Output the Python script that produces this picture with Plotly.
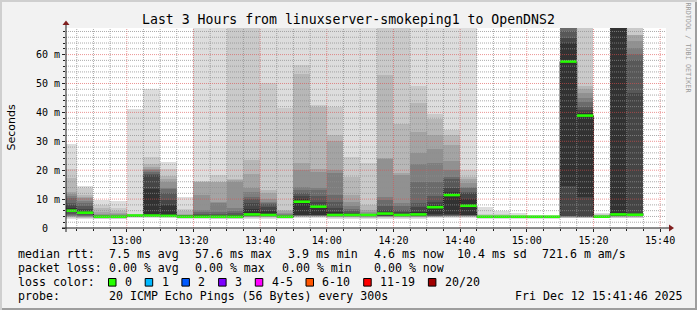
import plotly.graph_objects as go
import pandas as pd

# ---------------- data ----------------
step_start = "2025-12-12 12:40:00"      # first 5-minute step shown
view_start = "2025-12-12 12:41:46"
view_end = "2025-12-12 15:41:46"
y_max_ms = 69.2

# median RTT (ms) per 5-minute step
median_ms = [6.0, 5.3, 3.9, 3.9, 4.3, 4.3, 4.2, 3.9, 3.9, 3.9,
             3.9, 4.7, 4.5, 3.9, 9.1, 7.4, 4.5, 4.5, 4.5, 5.0,
             4.5, 4.7, 7.2, 11.4, 7.7, 3.9, 3.9, 3.9, 3.9, 3.9,
             57.6, 38.9, 3.9, 4.7, 4.6]

# 20 sorted ping RTTs (ms) per 5-minute step (values above the top are off-scale)
pings_ms = [
    [3.0, 3.5, 3.8, 3.9, 4.0, 4.2, 4.5, 5.0, 5.5, 6.0, 7.0, 8.0, 8.5, 10.3, 11.1, 11.8, 12.6, 17.2, 20.5, 29.1],
    [3.1, 3.4, 3.6, 3.8, 3.9, 4.0, 4.2, 4.4, 4.7, 5.1, 5.6, 6.5, 7.5, 8.8, 9.5, 10.3, 10.8, 11.5, 13.7, 14.5],
    [3.0, 3.2, 3.4, 3.5, 3.6, 3.7, 3.75, 3.8, 3.85, 3.9, 4.0, 4.1, 4.2, 4.4, 4.6, 5.0, 5.5, 7.0, 8.0, 9.8],
    [3.0, 3.2, 3.4, 3.5, 3.6, 3.7, 3.75, 3.8, 3.85, 3.9, 4.0, 4.1, 4.2, 4.3, 4.5, 4.8, 5.2, 6.0, 7.0, 9.3],
    [3.5, 3.7, 3.8, 3.9, 4.0, 4.05, 4.1, 4.15, 4.2, 4.25, 4.35, 4.4, 4.45, 4.5, 4.55, 4.6, 4.7, 4.8, 5.0, 41.2],
    [3.6, 3.8, 3.9, 4.0, 4.1, 4.2, 4.3, 4.4, 4.5, 4.6, 13.5, 18.4, 18.8, 19.5, 20.0, 20.5, 21.0, 22.0, 24.5, 48.1],
    [3.6, 3.8, 3.9, 4.0, 4.05, 4.1, 4.15, 4.2, 4.3, 4.4, 8.0, 9.7, 12.0, 13.4, 13.7, 16.0, 17.0, 18.0, 20.5, 22.8],
    [3.0, 3.3, 3.5, 3.6, 3.7, 3.75, 3.8, 3.85, 3.9, 3.95, 4.0, 4.1, 4.2, 4.3, 4.4, 4.6, 5.0, 6.0, 6.5, 10.6],
    [3.0, 3.3, 3.5, 3.6, 3.7, 3.75, 3.8, 3.85, 3.9, 4.0, 4.3, 4.6, 5.0, 5.5, 6.2, 11.4, 15.9, 16.0, 16.2, 72.0],
    [3.0, 3.2, 3.4, 3.5, 3.55, 3.6, 3.65, 3.7, 3.75, 3.8, 4.2, 4.5, 5.0, 5.7, 8.8, 9.1, 15.8, 16.0, 18.4, 72.0],
    [3.0, 3.2, 3.4, 3.5, 3.6, 3.65, 3.7, 3.75, 3.8, 3.85, 4.3, 4.6, 5.1, 6.0, 6.8, 16.0, 16.5, 16.9, 72.0, 72.0],
    [3.2, 3.5, 3.7, 3.8, 3.9, 4.0, 4.1, 4.2, 4.3, 4.4, 6.5, 8.8, 10.0, 10.8, 12.6, 13.7, 18.8, 23.5, 72.0, 72.0],
    [3.2, 3.5, 3.7, 3.8, 3.9, 4.0, 4.1, 4.2, 4.3, 4.4, 5.8, 7.2, 8.2, 8.5, 9.1, 9.9, 12.0, 13.0, 50.1, 72.0],
    [3.0, 3.3, 3.5, 3.6, 3.65, 3.7, 3.75, 3.8, 3.85, 3.9, 4.0, 4.1, 4.3, 4.5, 4.8, 5.3, 5.8, 6.3, 41.4, 72.0],
    [3.5, 3.8, 3.9, 4.0, 4.1, 4.2, 4.3, 4.4, 4.5, 4.6, 10.0, 11.0, 12.2, 13.0, 14.3, 20.0, 22.4, 53.2, 56.4, 72.0],
    [3.5, 3.8, 3.9, 4.0, 4.1, 4.2, 4.3, 4.4, 4.5, 4.6, 8.0, 9.0, 11.0, 13.2, 14.0, 19.5, 20.5, 42.0, 42.6, 72.0],
    [3.2, 3.5, 3.7, 3.8, 3.9, 4.0, 4.1, 4.2, 4.3, 4.4, 5.5, 7.0, 9.0, 11.4, 18.9, 20.1, 30.2, 32.2, 42.0, 72.0],
    [3.2, 3.5, 3.7, 3.8, 3.9, 4.0, 4.1, 4.2, 4.3, 4.4, 4.8, 5.2, 5.8, 6.5, 7.5, 9.0, 11.4, 17.8, 24.7, 72.0],
    [3.0, 3.3, 3.5, 3.7, 3.9, 4.1, 4.2, 4.3, 4.4, 4.5, 4.55, 4.6, 4.7, 4.8, 5.0, 5.5, 6.2, 8.0, 22.4, 72.0],
    [3.2, 3.5, 3.7, 3.8, 3.9, 4.0, 4.1, 4.2, 4.3, 4.5, 5.6, 6.2, 7.6, 9.7, 10.8, 23.8, 24.1, 53.0, 72.0, 72.0],
    [3.2, 3.5, 3.7, 3.8, 3.9, 4.0, 4.1, 4.2, 4.3, 4.4, 5.0, 5.5, 6.2, 7.5, 8.5, 18.5, 18.9, 36.0, 72.0, 72.0],
    [3.2, 3.5, 3.7, 3.8, 3.9, 4.0, 4.1, 4.2, 4.3, 4.4, 5.6, 7.2, 8.5, 16.0, 22.1, 25.9, 33.1, 43.2, 49.2, 72.0],
    [3.4, 3.7, 3.8, 3.9, 4.0, 4.1, 4.2, 4.3, 4.5, 5.0, 8.0, 9.1, 11.1, 16.0, 22.4, 27.4, 32.2, 37.7, 39.4, 72.0],
    [3.6, 3.8, 3.9, 4.0, 4.1, 4.2, 4.3, 4.4, 4.5, 4.7, 12.5, 14.0, 17.0, 17.8, 20.1, 23.2, 28.7, 32.2, 33.9, 72.0],
    [3.6, 3.8, 3.9, 4.0, 4.1, 4.2, 4.3, 4.4, 4.5, 4.6, 10.0, 12.0, 12.6, 13.7, 14.3, 15.5, 16.9, 17.8, 20.1, 72.0],
    [3.2, 3.4, 3.5, 3.6, 3.7, 3.75, 3.8, 3.85, 3.88, 3.9, 3.95, 3.98, 4.0, 4.05, 4.1, 4.2, 4.3, 4.5, 5.0, 7.3],
    [3.2, 3.4, 3.5, 3.6, 3.7, 3.75, 3.8, 3.85, 3.88, 3.9, 3.95, 3.98, 4.0, 4.05, 4.1, 4.2, 4.3, 4.4, 4.8, 6.0],
    [3.2, 3.4, 3.5, 3.6, 3.7, 3.75, 3.8, 3.85, 3.88, 3.9, 3.95, 3.98, 4.0, 4.05, 4.1, 4.15, 4.2, 4.3, 4.6, 5.1],
    [3.2, 3.4, 3.5, 3.6, 3.7, 3.75, 3.8, 3.85, 3.88, 3.9, 3.92, 3.95, 3.98, 4.0, 4.05, 4.1, 4.15, 4.2, 4.3, 4.5],
    [3.2, 3.4, 3.5, 3.6, 3.7, 3.75, 3.8, 3.85, 3.88, 3.9, 3.92, 3.95, 3.98, 4.0, 4.05, 4.1, 4.15, 4.2, 4.3, 4.4],
    [3.3, 3.5, 3.6, 3.7, 3.8, 3.9, 4.0, 4.1, 4.3, 14.4, 63.9, 65.7, 68.0, 72.0, 72.0, 72.0, 72.0, 72.0, 72.0, 72.0],
    [3.4, 3.5, 3.6, 3.7, 3.8, 3.85, 3.9, 3.95, 4.0, 10.8, 39.7, 40.9, 42.0, 43.5, 45.0, 46.6, 48.0, 49.2, 72.0, 72.0],
    [3.3, 3.4, 3.5, 3.6, 3.7, 3.75, 3.8, 3.85, 3.88, 3.9, 3.95, 4.0, 4.05, 4.1, 4.2, 4.3, 4.4, 4.5, 4.7, 5.1],
    [3.4, 3.6, 3.8, 3.9, 4.0, 4.1, 4.15, 4.2, 4.25, 4.3, 72.0, 72.0, 72.0, 72.0, 72.0, 72.0, 72.0, 72.0, 72.0, 72.0],
    [3.4, 3.6, 3.8, 3.9, 4.0, 4.1, 4.2, 4.3, 4.4, 4.5, 4.6, 46.6, 58.2, 60.1, 62.2, 64.7, 66.8, 66.9, 72.0, 72.0],
]

y_tick_values = [0, 10, 20, 30, 40, 50, 60]
y_tick_labels = ["0\u00a0\u00a0", "10 m", "20 m", "30 m", "40 m", "50 m", "60 m"]

title_text = "Last 3 Hours from linuxserver-smokeping1 to OpenDNS2"
rtt_stats = ["7.5 ms avg", "57.6 ms max", "3.9 ms min", "4.6 ms now", "10.4 ms sd", "721.6 m am/s"]
loss_stats = ["0.00 % avg", "0.00 % max", "0.00 % min", "0.00 % now"]
loss_labels = ["0", "1", "2", "3", "4-5", "6-10", "11-19", "20/20"]
loss_colors = ["#26ff00", "#00b8ff", "#0059ff", "#7e00ff", "#ff00ff", "#ff5500", "#ff0000", "#a10000"]
probe_text = "20 ICMP Echo Pings (56 Bytes) every 300s"
date_text = "Fri Dec 12 15:41:46 2025"
median_color = "#26ff00"

# ---------------- geometry / style ----------------
W, H = 697, 310
PL, PR, PT, PB = 66, 31, 28, 82
PW, PH = W - PL - PR, H - PT - PB
MONO = "DejaVu Sans Mono"
SANS = "DejaVu Sans"
STEP = pd.Timedelta(minutes=5)


def px_x(px):
    return (px - PL) / PW


def px_y(py):
    return (PT + PH - py) / PH


times = pd.date_range(step_start, periods=len(median_ms), freq="5min")
centers = times + STEP / 2

fig = go.Figure()

# smoke: SmokePing-style nested bands, outer (light) to inner (dark)
half = 10
for ibot in range(1, half + 1):
    lo = [p[ibot - 1] for p in pings_ms]
    hi = [p[20 - ibot] for p in pings_ms]
    g = int(190 / half * (half - ibot)) + 50
    fig.add_trace(go.Bar(
        x=centers, y=[h - l for h, l in zip(hi, lo)], base=lo,
        width=STEP.total_seconds() * 1000,
        marker=dict(color=f"rgb({g},{g},{g})", line=dict(width=0)),
        hoverinfo="skip", showlegend=False))

# thin dark median step line
fig.add_trace(go.Scatter(
    x=list(times) + [times[-1] + STEP], y=median_ms + [median_ms[-1]],
    mode="lines", line=dict(color="#202020", width=1, shape="hv"),
    hoverinfo="skip", showlegend=False))

# loss-coloured median bars
gx, gy = [], []
for t, m in zip(times, median_ms):
    gx += [t, t + STEP, None]
    gy += [m, m, None]
fig.add_trace(go.Scatter(x=gx, y=gy, mode="lines",
                         line=dict(color=median_color, width=2.6),
                         hoverinfo="skip", showlegend=False))

shapes = []
# grid drawn on top of the data (rrdtool style)
minor_col = "rgba(143,143,143,0.75)"
major_col = "rgba(222,79,79,0.6)"
for t in pd.date_range("2025-12-12 12:45:00", "2025-12-12 15:40:00", freq="5min"):
    major = (t.minute % 20 == 0)
    shapes.append(dict(type="line", xref="x", yref="paper", x0=t, x1=t, y0=0, y1=1,
                       line=dict(color=major_col if major else minor_col, width=1, dash="1px,1px"),
                       layer="above"))
for v in range(2, 70, 2):
    if v > y_max_ms:
        break
    major = (v % 10 == 0)
    shapes.append(dict(type="line", xref="paper", yref="y", x0=0, x1=1, y0=v, y1=v,
                       line=dict(color=major_col if major else minor_col, width=1, dash="1px,1px"),
                       layer="above"))

# axes lines and arrows
axis_col = "#1f1f1f"
arrow_col = "#801f1f"
shapes.append(dict(type="line", xref="paper", yref="paper", x0=px_x(62), x1=px_x(670),
                   y0=0, y1=0, line=dict(color=axis_col, width=1), layer="above"))
shapes.append(dict(type="line", xref="paper", yref="paper", x0=0, x1=0,
                   y0=px_y(232), y1=px_y(24), line=dict(color=axis_col, width=1), layer="above"))


def path(points):
    return "M " + " L ".join(f"{px_x(a)},{px_y(b)}" for a, b in points) + " Z"


shapes.append(dict(type="path", xref="paper", yref="paper",
                   path=path([(669, 224.5), (674, 228), (669, 231.5)]),
                   fillcolor=arrow_col, line=dict(width=0), layer="above"))
shapes.append(dict(type="path", xref="paper", yref="paper",
                   path=path([(62.5, 25), (66, 20.5), (69.5, 25)]),
                   fillcolor=arrow_col, line=dict(width=0), layer="above"))

# 3D frame around the image
shapes.append(dict(type="rect", xref="paper", yref="paper", x0=px_x(0), x1=px_x(W), y0=px_y(0), y1=px_y(2),
                   fillcolor="#cfcfcf", line=dict(width=0), layer="above"))
shapes.append(dict(type="rect", xref="paper", yref="paper", x0=px_x(0), x1=px_x(2), y0=px_y(0), y1=px_y(H),
                   fillcolor="#cfcfcf", line=dict(width=0), layer="above"))
shapes.append(dict(type="rect", xref="paper", yref="paper", x0=px_x(2), x1=px_x(W), y0=px_y(H - 2), y1=px_y(H),
                   fillcolor="#9e9e9e", line=dict(width=0), layer="above"))
shapes.append(dict(type="rect", xref="paper", yref="paper", x0=px_x(W - 2), x1=px_x(W), y0=px_y(2), y1=px_y(H),
                   fillcolor="#9e9e9e", line=dict(width=0), layer="above"))

annotations = []


def ann(text, px, py, size=11.6, xanchor="left", family=MONO, color="black", angle=0):
    annotations.append(dict(text=text, x=px_x(px), y=px_y(py), xref="paper", yref="paper",
                            xanchor=xanchor, yanchor="middle", showarrow=False,
                            font=dict(family=family, size=size, color=color), textangle=angle))


ann(title_text, 348, 19, size=13.2, xanchor="center")
ann("Seconds", 11, 127.5, size=11, xanchor="center", family=SANS, angle=-90)
ann("RRDTOOL / TOBI OETIKER", 687.5, 48, size=6.8, xanchor="center", color="#999999", angle=90)

row_y = [254.3, 268.3, 282.3, 296.0]
ann("median rtt:", 16, row_y[0])
for txt, x in zip(rtt_stats, [107, 193, 286, 372, 455, 540]):
    ann(txt, x, row_y[0])
ann("packet loss:", 16, row_y[1])
for txt, x in zip(loss_stats, [107, 193, 279.5, 372]):
    ann(txt, x, row_y[1])
ann("loss color:", 16, row_y[2])
bx = 108.5
for lab, col in zip(loss_labels, loss_colors):
    shapes.append(dict(type="rect", xref="paper", yref="paper",
                       x0=px_x(bx), x1=px_x(bx + 7.5), y0=px_y(row_y[2] + 3.8), y1=px_y(row_y[2] - 3.8),
                       fillcolor=col, line=dict(color="black", width=1), layer="above"))
    ann(lab, bx + 14.5, row_y[2])
    bx += 14.5 + 7.0 * len(lab) + 15.2
ann("probe:", 16, row_y[3])
ann(probe_text, 107, row_y[3])
ann(date_text, 513, row_y[3])

fig.update_layout(
    template="none",
    width=W, height=H,
    margin=dict(l=PL, r=PR, t=PT, b=PB, pad=0, autoexpand=False),
    paper_bgcolor="#f2f2f2", plot_bgcolor="#ffffff",
    barmode="overlay", bargap=0, showlegend=False,
    shapes=shapes, annotations=annotations,
    xaxis=dict(type="date", range=[view_start, view_end], automargin=False,
               tickformat="%H:%M", tick0="2025-12-12 13:00:00", dtick=20 * 60 * 1000,
               showgrid=False, zeroline=False, showline=False,
               ticks="outside", ticklen=3, tickcolor=axis_col, tickwidth=1,
               tickfont=dict(family=MONO, size=10, color="black"),
               minor=dict(ticks="outside", ticklen=2, tickcolor=axis_col, dtick=5 * 60 * 1000,
                          tick0="2025-12-12 13:00:00", showgrid=False)),
    yaxis=dict(range=[0, y_max_ms], automargin=False,
               tickmode="array", tickvals=y_tick_values, ticktext=y_tick_labels,
               showgrid=False, zeroline=False, showline=False,
               ticks="outside", ticklen=3, tickcolor=axis_col, tickwidth=1,
               tickfont=dict(family=MONO, size=10, color="black"),
               minor=dict(ticks="outside", ticklen=2, tickcolor=axis_col, tickmode="linear",
                          tick0=0, dtick=2, showgrid=False)),
)

fig.write_html("out.html")
